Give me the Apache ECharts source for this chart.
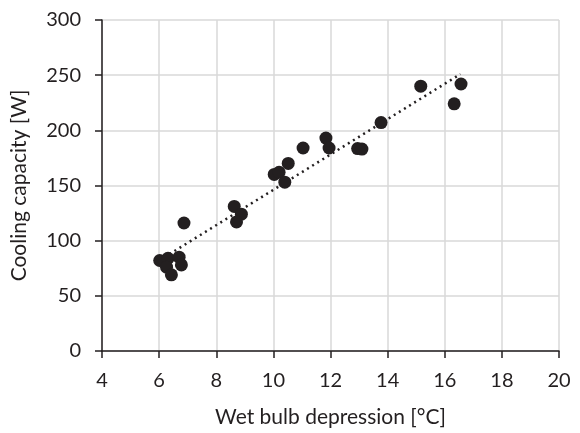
<!DOCTYPE html>
<html lang="en">
<head>
    <meta charset="utf-8"/>
    <title>Cooling capacity vs wet bulb depression</title>
    <script src="https://cdn.jsdelivr.net/npm/echarts@6/dist/echarts.min.js"></script>
    <style>
        html, body { margin: 0; padding: 0; background: #fff; }
        #chart { width: 580px; height: 433px; }
    </style>
</head>
<body>
<div id="chart"></div>
<script>
    // measured points
    const depression = [6.02, 6.31, 6.26, 6.43, 6.70, 6.78, 6.87, 8.63, 8.88, 8.71,
        10.03, 10.2, 10.52, 10.4, 11.04, 11.84, 11.95, 12.95, 13.1, 13.77, 15.16, 16.57, 16.33];
    const capacity = [82, 84, 76, 69, 85, 78, 116, 131, 124, 117,
        160, 162, 170, 153, 184, 193, 184, 183.5, 183, 207, 240, 242, 224];
    // linear trendline end points
    const trendX = [6.0, 16.55];
    const trendY = [82, 251];

    const ink = '#231f20';
    const chart = echarts.init(document.getElementById('chart'));
    const option = {
        animation: false,
        grid: { left: 102, right: 21, top: 20, bottom: 81 },
        xAxis: {
            type: 'value', min: 4, max: 20, interval: 2,
            name: 'Wet bulb depression [°C]', nameLocation: 'middle', nameGap: 56,
            nameTextStyle: { fontFamily: 'Lato', fontSize: 21, color: ink },
            axisLine: { show: true, onZero: false, lineStyle: { color: ink, width: 1.5 } },
            axisTick: { show: true, length: 7, lineStyle: { color: ink, width: 1.5 } },
            axisLabel: { fontFamily: 'Lato', fontSize: 20, color: ink, margin: 20 },
            splitLine: { show: true, lineStyle: { color: '#d9d9d9', width: 1.5 } }
        },
        yAxis: {
            type: 'value', min: 0, max: 300, interval: 50,
            name: 'Cooling capacity [W]', nameLocation: 'middle', nameGap: 72,
            nameTextStyle: { fontFamily: 'Lato', fontSize: 21, color: ink },
            axisLine: { show: true, lineStyle: { color: ink, width: 1.5 } },
            axisTick: { show: true, length: 7, lineStyle: { color: ink, width: 1.5 } },
            axisLabel: { fontFamily: 'Lato', fontSize: 20, color: ink, margin: 21 },
            splitLine: { show: true, lineStyle: { color: '#d9d9d9', width: 1.5 } }
        },
        series: [
            {
                type: 'line',
                data: trendX.map((x, i) => [x, trendY[i]]),
                showSymbol: false,
                lineStyle: { color: ink, width: 2.5, type: [2, 4] },
                z: 3
            },
            {
                type: 'scatter',
                data: depression.map((x, i) => [x, capacity[i]]),
                symbolSize: 13,
                itemStyle: { color: ink, opacity: 1 },
                z: 4
            }
        ]
    };
    chart.setOption(option);
</script>
</body>
</html>
